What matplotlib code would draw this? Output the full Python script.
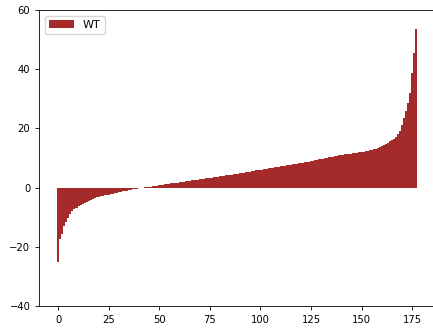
import numpy as np
import matplotlib
matplotlib.use("Agg")
import matplotlib.pyplot as plt

# sorted per-sample scores for the WT group
wt_values = [
    -25.3, -17.5, -15.8, -13.0, -11.5, -10.2, -8.8, -8.0, -7.3, -6.8,
    -6.3, -5.9, -5.5, -5.2, -4.8, -4.4, -4.1, -3.8, -3.4, -3.25,
    -3.1, -2.95, -2.8, -2.65, -2.5, -2.35, -2.2, -2.05, -1.9, -1.75,
    -1.6, -1.45, -1.3, -1.15, -1.0, -0.85, -0.7, -0.6, -0.5, -0.4,
    -0.3, 0.0, 0.0, 0.05, 0.1, 0.2, 0.3, 0.4, 0.55, 0.65,
    0.8, 0.9, 1.0, 1.1, 1.2, 1.3, 1.4, 1.5, 1.6, 1.7,
    1.8, 1.9, 2.0, 2.1, 2.2, 2.3, 2.4, 2.5, 2.6, 2.7,
    2.8, 2.9, 3.0, 3.1, 3.2, 3.25, 3.35, 3.5, 3.6, 3.7,
    3.8, 3.9, 4.0, 4.1, 4.2, 4.3, 4.4, 4.5, 4.6, 4.7,
    4.8, 4.9, 5.0, 5.2, 5.3, 5.4, 5.5, 5.7, 5.8, 5.9,
    6.0, 6.1, 6.2, 6.4, 6.5, 6.6, 6.7, 6.8, 7.0, 7.1,
    7.2, 7.3, 7.4, 7.5, 7.7, 7.8, 7.9, 8.0, 8.1, 8.2,
    8.3, 8.4, 8.6, 8.7, 8.8, 9.0, 9.1, 9.3, 9.4, 9.6,
    9.7, 9.8, 10.0, 10.1, 10.2, 10.3, 10.5, 10.6, 10.8, 10.9,
    11.0, 11.1, 11.2, 11.3, 11.4, 11.5, 11.6, 11.7, 11.8, 11.9,
    12.0, 12.1, 12.2, 12.4, 12.6, 12.7, 12.9, 13.2, 13.5, 13.8,
    14.0, 14.4, 14.8, 15.2, 15.6, 16.0, 16.5, 17.0, 18.0, 19.0,
    21.0, 23.5, 26.0, 28.6, 32.0, 38.7, 45.5, 53.5,
]
positions = np.arange(len(wt_values))

fig = plt.figure(figsize=(4.33, 3.29), dpi=100)
ax = fig.add_axes([0.0908, 0.0699, 0.914, 0.8997])

ax.bar(positions, wt_values, width=1.0, color="#a52a2a", label="WT")

ax.set_ylim(-40, 60)
ax.set_yticks([-40, -20, 0, 20, 40, 60])
ax.set_xticks([0, 25, 50, 75, 100, 125, 150, 175])
ax.tick_params(labelsize=7.2, length=3, width=0.6)
for side in ["top", "bottom", "left"]:
    ax.spines[side].set_linewidth(0.6)
ax.spines["right"].set_visible(False)

ax.legend(loc="upper left", fontsize=8, handlelength=2.2)

fig.savefig("out.png", dpi=100)
